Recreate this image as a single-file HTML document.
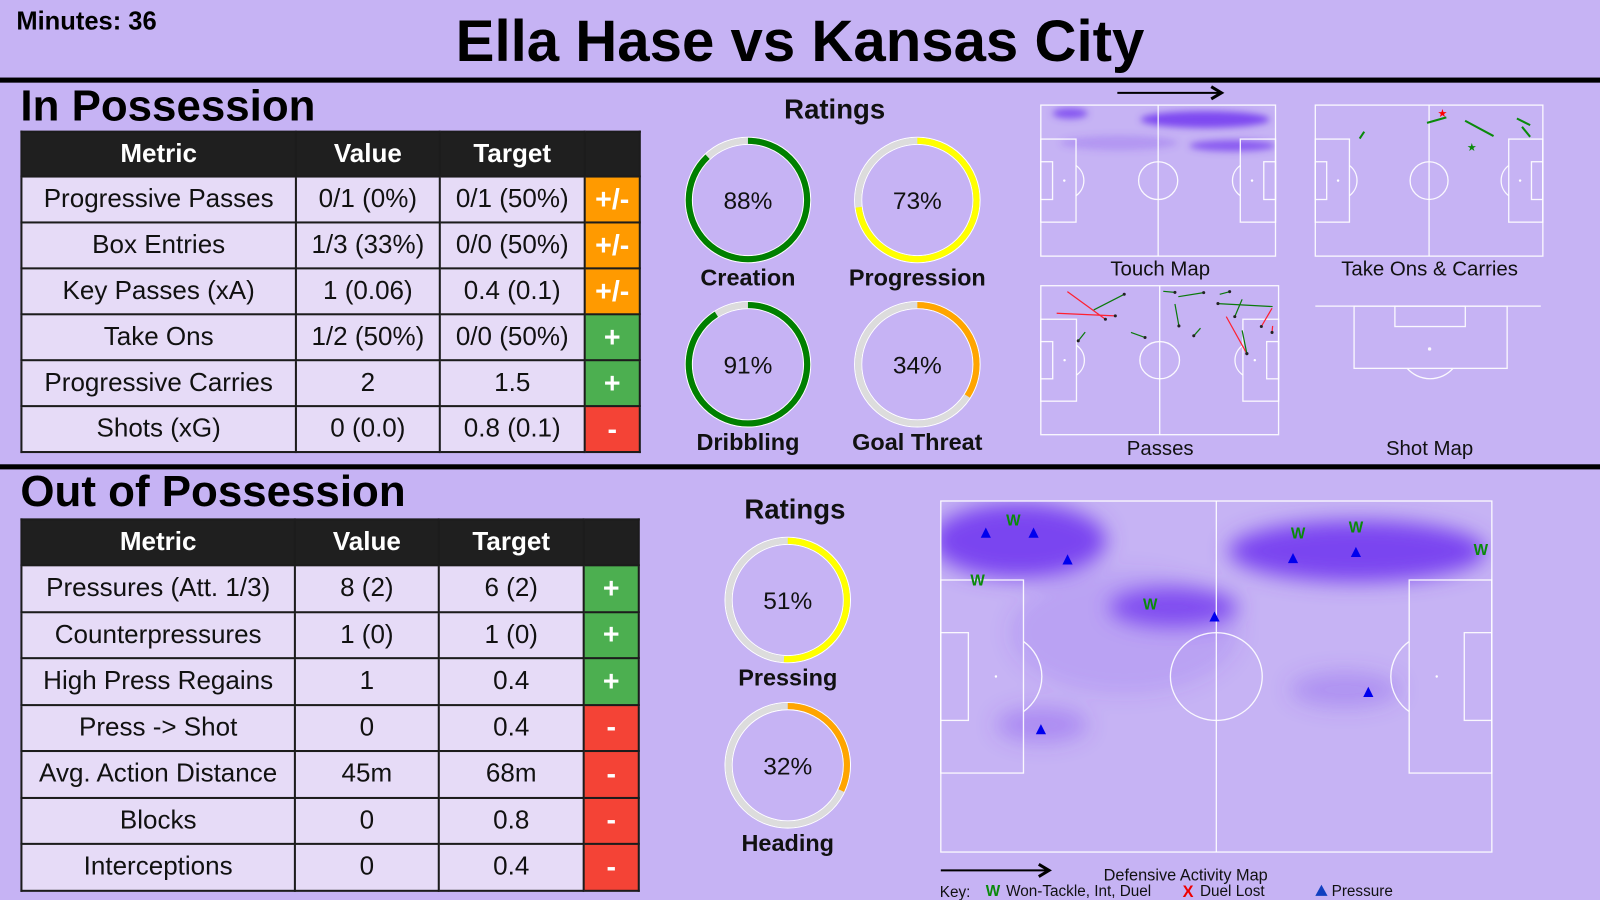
<!DOCTYPE html>
<html><head><meta charset="utf-8">
<style>
html,body{margin:0;padding:0;width:1600px;height:900px;overflow:hidden;background:#c6b3f4;}
#stage{position:absolute;left:0;top:0;width:1568px;height:882px;transform:scale(1.020408);transform-origin:0 0;font-family:"Liberation Sans",sans-serif;}
.abs{position:absolute;}
table.t{position:absolute;border-collapse:collapse;font-size:25.5px;table-layout:fixed;}
table.t td,table.t th{border:2px solid #1c1c1c;text-align:center;padding:0;color:#111;background:#e6dbf7;}
table.t th{background:#1f1f1f;color:#fff;font-weight:bold;}
table.t td.s{color:#fff;font-weight:bold;font-size:28px;}
.amb{background:#ff9a00 !important}.pos{background:#4caf50 !important}.neg{background:#f44336 !important}
.hr{position:absolute;left:0;width:1568px;height:5px;background:#000;}
</style></head><body>
<div id="stage">
<div class="abs" style="left:16px;top:7px;font-size:25px;font-weight:bold">Minutes: 36</div>
<div class="abs" style="left:0;width:1568px;top:8px;text-align:center;font-size:57px;font-weight:bold">Ella Hase vs Kansas City</div>
<div class="hr" style="top:76px"></div>
<div class="hr" style="top:455px"></div>
<div class="abs" style="left:20px;top:80px;font-size:43px;font-weight:bold">In Possession</div>
<div class="abs" style="left:20px;top:458px;font-size:43px;font-weight:bold">Out of Possession</div>

<table class="t" style="left:20px;top:128px;width:606px">
<colgroup><col style="width:269px"><col style="width:141px"><col style="width:142px"><col style="width:54px"></colgroup>
<tr style="height:44px"><th>Metric</th><th>Value</th><th>Target</th><th></th></tr>
<tr style="height:45px"><td>Progressive Passes</td><td>0/1 (0%)</td><td>0/1 (50%)</td><td class="s amb">+/-</td></tr>
<tr style="height:45px"><td>Box Entries</td><td>1/3 (33%)</td><td>0/0 (50%)</td><td class="s amb">+/-</td></tr>
<tr style="height:45px"><td>Key Passes (xA)</td><td>1 (0.06)</td><td>0.4 (0.1)</td><td class="s amb">+/-</td></tr>
<tr style="height:45px"><td>Take Ons</td><td>1/2 (50%)</td><td>0/0 (50%)</td><td class="s pos">+</td></tr>
<tr style="height:45px"><td>Progressive Carries</td><td>2</td><td>1.5</td><td class="s pos">+</td></tr>
<tr style="height:45px"><td>Shots (xG)</td><td>0 (0.0)</td><td>0.8 (0.1)</td><td class="s neg">-</td></tr>
</table>

<table class="t" style="left:20px;top:508px;width:605px">
<colgroup><col style="width:268px"><col style="width:141px"><col style="width:142px"><col style="width:54px"></colgroup>
<tr style="height:45px"><th>Metric</th><th>Value</th><th>Target</th><th></th></tr>
<tr style="height:45.5px"><td>Pressures (Att. 1/3)</td><td>8 (2)</td><td>6 (2)</td><td class="s pos">+</td></tr>
<tr style="height:45.5px"><td>Counterpressures</td><td>1 (0)</td><td>1 (0)</td><td class="s pos">+</td></tr>
<tr style="height:45.5px"><td>High Press Regains</td><td>1</td><td>0.4</td><td class="s pos">+</td></tr>
<tr style="height:45.5px"><td>Press -&gt; Shot</td><td>0</td><td>0.4</td><td class="s neg">-</td></tr>
<tr style="height:45.5px"><td>Avg. Action Distance</td><td>45m</td><td>68m</td><td class="s neg">-</td></tr>
<tr style="height:45.5px"><td>Blocks</td><td>0</td><td>0.8</td><td class="s neg">-</td></tr>
<tr style="height:45.5px"><td>Interceptions</td><td>0</td><td>0.4</td><td class="s neg">-</td></tr>
</table>

<svg id="viz" class="abs" style="left:0;top:0" width="1568" height="882" viewBox="0 0 1568 882">
<defs>
<filter id="blur" x="-50%" y="-100%" width="200%" height="300%"><feGaussianBlur stdDeviation="10"/></filter>
<filter id="blur2" x="-50%" y="-100%" width="200%" height="300%"><feGaussianBlur stdDeviation="3.5"/></filter>
<marker id="arr" markerWidth="8" markerHeight="8" refX="6" refY="4" orient="auto"><path d="M1,1 L6,4 L1,7" fill="none" stroke="#000" stroke-width="1.5"/></marker>
</defs>
</svg>
</div>
<script>
// ---- Ratings data ----
const ratingLabels = ["Creation","Progression","Dribbling","Goal Threat","Pressing","Heading"];
const ratingValues = [88,73,91,34,51,32];
// ---- Touch map heat (pitch coords 120x80) ----
const touchX = [15,84,98,40];
const touchY = [4.4,7.6,21.5,20];
const touchRx = [9,33,22,30];
const touchRy = [2.8,4.5,3,4];
const touchA = [0.85,0.95,0.8,0.25];
// ---- Take ons & carries ----
const carryX1=[23.4,58.9,79,106.3,109], carryY1=[17.7,9.4,8.3,7.1,11.5];
const carryX2=[25.8,69.1,94,113.3,113.3], carryY2=[14.1,6.5,16.4,10.6,16.8];
const takeOnX=[67.1,82.6], takeOnY=[4.1,22.1], takeOnWon=[0,1];
// ---- Passes ----
const passX1=[13.4,8,26.7,22.4,45.5,61.8,69.4,67.7,80.6,90.3,117,101.6,93.6,101.6,116.7,117];
const passY1=[3.2,14.8,13,24.9,25.1,3,5.9,9.8,22.8,4.6,11.2,7.3,16.6,24,12.1,21.6];
const passX2=[32.6,37.6,42.1,18.9,52.6,67.7,82.2,69.7,77.2,95.3,89.4,97.9,104,104,111.3,116.7];
const passY2=[18,16.2,4.6,29.6,27.8,3.6,3.7,21.6,26.9,3.2,9.6,16.6,36.5,36.5,21.9,25.1];
const passOk=[0,0,1,1,1,1,1,1,1,1,1,1,0,1,0,0];
// ---- Defensive activity ----
const pressX=[9.8,20.2,27.6,59.6,21.8,76.7,90.4,93.1];
const pressY=[7.2,7.2,13.3,26.3,52,13,11.6,43.5];
const wonX=[15.8,8,45.6,77.8,90.4,117.6];
const wonY=[4.2,17.9,23.3,7.2,5.8,10.9];
const defHeatX=[17,90.7,50.7,22,88,40];
const defHeatY=[9,11.4,24.2,51,43,30];
const defHeatRx=[19,28,14,10,12,25];
const defHeatRy=[8.5,7,4.5,4,4,14];
const defHeatA=[1,1,0.9,0.35,0.3,0.15];

const NS="http://www.w3.org/2000/svg";
const svg=document.getElementById('viz');
const defs=svg.querySelector('defs');
function mk(tag,attrs,parent){const e=document.createElementNS(NS,tag);for(const k in attrs)e.setAttribute(k,attrs[k]);(parent||svg).appendChild(e);return e;}

let clipN=0;
function pitch(x0,y0,w,h,name){
  const g=mk('g',{});
  
  
  const sx=v=>x0+v*w/120, sy=v=>y0+v*h/80;
  const st={fill:'none',stroke:'#fff','stroke-width':1.3,opacity:0.9};
  const ln=(a)=>mk(a[0],Object.assign({},st,a[1]),g);
  ln(['rect',{x:x0,y:y0,width:w,height:h}]);
  ln(['line',{x1:sx(60),y1:y0,x2:sx(60),y2:y0+h}]);
  ln(['ellipse',{cx:sx(60),cy:sy(40),rx:10*w/120,ry:10*h/80}]);
  [[0,18],[120,-18]].forEach(([s,d])=>{
    ln(['rect',{x:Math.min(sx(s),sx(s+d)),y:sy(18),width:18*w/120,height:44*h/80}]);
    ln(['rect',{x:Math.min(sx(s),sx(s+d/3)),y:sy(30),width:6*w/120,height:20*h/80}]);
    const px=sx(s+(d>0?12:-12)), r=10*w/120, ry=10*h/80, bx=sx(s+d);
    const dx=Math.abs(bx-px), dy=ry*Math.sqrt(Math.max(0,1-(dx/r)**2));
    ln(['path',{d:`M${bx},${sy(40)-dy} A${r},${ry} 0 0 ${d>0?1:0} ${bx},${sy(40)+dy}`}]);
    mk('circle',{cx:px,cy:sy(40),r:1.2,fill:'#fff'},g);
  });
  const id='clip'+(clipN++);
  const cp=mk('clipPath',{id},defs);
  mk('rect',{x:x0,y:y0,width:w,height:h},cp);
  return {g,sx,sy,clip:id};
}
function heat(p,xs,ys,rxs,rys,as,w,h,filt){
  const outer=mk('g',{'clip-path':`url(#${p.clip})`});
  
  
  const g=mk('g',{filter:`url(#${filt})`},outer);
  xs.forEach((x,i)=>{
    const e=mk('ellipse',{cx:p.sx(x),cy:p.sy(ys[i]),rx:rxs[i]*w/120,ry:rys[i]*h/80,fill:'#7a45f0','fill-opacity':as[i]},g);
    
    
  });
  svg.insertBefore(outer,p.g);
}
function txt(x,y,s,size,weight,name,anchor){
  const t=mk('text',{x:x,y:y,'font-size':size,'font-weight':weight||'normal','text-anchor':anchor||'middle','font-family':'Liberation Sans, sans-serif',fill:'#111'});
  t.textContent=s;
  
  
  return t;
}

// Ratings rings
txt(818,116,'Ratings',27,'bold','ratings-title-1');
txt(779,508,'Ratings',27,'bold','ratings-title-2');
const ringCX=[733,899,733,899,772,772], ringCY=[196,196,357,357,588,750];
function ringColor(v){return v>=80?'#008000':(v>=50?'#ffff00':'#ffa500');}
ratingValues.forEach((v,i)=>{
  const cx=ringCX[i],cy=ringCY[i],r=58;
  const g=mk('g',{});
  
  
  mk('circle',{cx,cy,r:r+3.5,fill:'none',stroke:'#fff','stroke-width':1},g);
  mk('circle',{cx,cy,r:r-3.5,fill:'none',stroke:'#fff','stroke-width':1},g);
  mk('circle',{cx,cy,r,fill:'none',stroke:'#dcdcdc','stroke-width':6},g);
  const C=2*Math.PI*r;
  mk('circle',{cx,cy,r,fill:'none',stroke:ringColor(v),'stroke-width':6,'stroke-dasharray':`${C*v/100} ${C}`,transform:`rotate(-90 ${cx} ${cy})`},g);
  txt(cx,cy+9,v+'%',24,'normal','rating-value-'+i);
  txt(cx,cy+84,ratingLabels[i],23,'bold','rating-label-'+i);
});

// Touch map
const tm=pitch(1020,103,230,148,'touch-map');
heat(tm,touchX,touchY,touchRx,touchRy,touchA,230,148,'blur2');
txt(1137,270,'Touch Map',20,'normal','touch-map-title');
const arrow1=mk('line',{x1:1095,y1:91,x2:1197,y2:91,stroke:'#000','stroke-width':2,'marker-end':'url(#arr)'});



// Take ons
const tc=pitch(1289,103,223,148,'take-ons-map');
carryX1.forEach((x,i)=>{
  const l=mk('line',{x1:tc.sx(x),y1:tc.sy(carryY1[i]),x2:tc.sx(carryX2[i]),y2:tc.sy(carryY2[i]),stroke:'#0a8a0a','stroke-width':2});
  
  
});
takeOnX.forEach((x,i)=>{
  const s=txt(tc.sx(x),tc.sy(takeOnY[i])+4,'★',11,'normal','take-on-star');
  s.setAttribute('fill',takeOnWon[i]?'#0a8a0a':'#ff0000');
});
txt(1401,270,'Take Ons & Carries',20,'normal','take-ons-title');

// Passes
const pp=pitch(1020,280,233,146,'passes-map');
passX1.forEach((x,i)=>{
  const c=passOk[i]?'#0a7a0a':'#ff2030';
  const l=mk('line',{x1:pp.sx(x),y1:pp.sy(passY1[i]),x2:pp.sx(passX2[i]),y2:pp.sy(passY2[i]),stroke:c,'stroke-width':1.2});
  
  
  const d=mk('circle',{cx:pp.sx(passX2[i]),cy:pp.sy(passY2[i]),r:1.5,fill:'#222'});
  
  
});
txt(1137,446,'Passes',20,'normal','passes-title');

// Shot map (half pitch)
const sg=mk('g',{fill:'none',stroke:'#fff','stroke-width':1.3,opacity:0.9});


mk('line',{x1:1289,y1:300,x2:1510,y2:300},sg);
mk('rect',{x:1327,y:300,width:150,height:61},sg);
mk('rect',{x:1367,y:300,width:69,height:20},sg);
mk('path',{d:'M1379,361 A30,30 0 0 0 1424,361'},sg);
mk('circle',{cx:1401,cy:342,r:1,fill:'#fff'},sg);
txt(1401,446,'Shot Map',20,'normal','shot-map-title');

// Defensive activity map
const dm=pitch(922,491,540,344,'defensive-activity-map');
heat(dm,defHeatX,defHeatY,defHeatRx,defHeatRy,defHeatA,540,344,'blur');
pressX.forEach((x,i)=>{
  const cx=dm.sx(x),cy=dm.sy(pressY[i]);
  const t=mk('path',{d:`M${cx-5},${cy+5} L${cx+5},${cy+5} L${cx},${cy-5} Z`,fill:'#0000ee'});
  
  
});
wonX.forEach((x,i)=>{
  const t=txt(dm.sx(x),dm.sy(wonY[i])+6,'W',15,'bold','won-marker');
  t.setAttribute('fill','#0a8a0a');
});
const arrow2=mk('line',{x1:922,y1:853,x2:1028,y2:853,stroke:'#000','stroke-width':2,'marker-end':'url(#arr)'});


txt(1162,863,'Defensive Activity Map',16,'normal','defensive-map-title');
txt(921,879,'Key:',15,'normal','key-label','start');
txt(966,878,'W',15,'bold','key-won-symbol','start').setAttribute('fill','#0a8a0a');
txt(986,878,'Won-Tackle, Int, Duel',15,'normal','key-won-text','start');
txt(1159,879,'X',16,'bold','key-lost-symbol','start').setAttribute('fill','#ee0000');
txt(1176,878,'Duel Lost',15,'normal','key-lost-text','start');
const kt=mk('path',{d:'M1289,878 L1301,878 L1295,867 Z',fill:'#1040c0'});


txt(1305,878,'Pressure',15,'normal','key-pressure-text','start');
</script>
</body></html>
